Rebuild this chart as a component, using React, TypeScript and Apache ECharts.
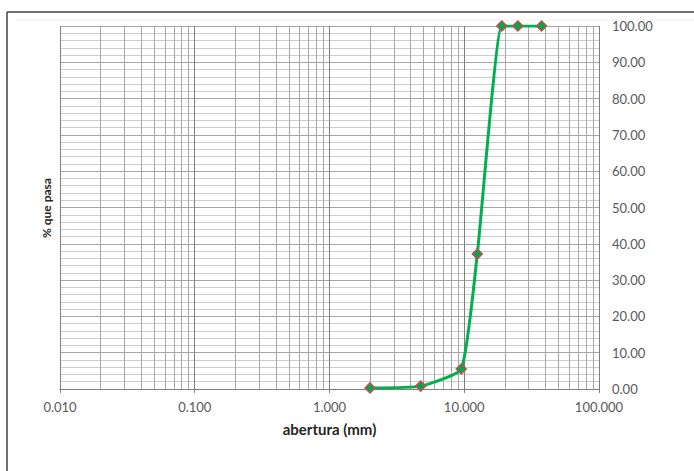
import React, { useEffect, useRef } from "react";
import * as echarts from "echarts";

// sieve openings (mm) and % passing
const aperturas = [2.0, 4.75, 9.5, 12.5, 19.0, 25.0, 37.5];
const pasa = [0.3, 0.8, 5.5, 37.2, 100, 100, 100];

// log grid minor lines (2..9 of each decade) and decade lines
const decades = [0.01, 0.1, 1, 10, 100];
const minorMultipliers = [2, 3, 4, 5, 6, 7, 8, 9];

const yTitle = "% que pasa";
const xTitle = "abertura (mm)";

export default function App() {
  const ref = useRef<HTMLDivElement>(null);
  useEffect(() => {
    if (!ref.current) return;
    const chart = echarts.init(ref.current, null, { renderer: "svg" });
    const minorVals: number[] = [];
    decades.slice(0, -1).forEach((d) =>
      minorMultipliers.forEach((m) => minorVals.push(d * m))
    );
    const font = "Lato, 'Open Sans', sans-serif";
    chart.setOption({
      animation: false,
      backgroundColor: "#ffffff",
      grid: { left: 60, right: 95, top: 26, bottom: 82, containLabel: false },
      xAxis: {
        type: "log",
        logBase: 10,
        min: 0.01,
        max: 100,
        name: xTitle,
        nameLocation: "middle",
        nameGap: 32,
        nameTextStyle: { fontFamily: font, fontWeight: "bold", fontSize: 15, color: "#262626" },
        axisLine: { show: true, lineStyle: { color: "#7f7f7f", width: 1 } },
        axisTick: { show: true, length: 4, lineStyle: { color: "#7f7f7f" } },
        axisLabel: {
          margin: 11,
          fontFamily: font,
          fontSize: 13,
          color: "#595959",
          formatter: (v: number) => v.toFixed(3),
        },
        splitLine: { show: true, lineStyle: { color: "#7f7f7f", width: 1 } },
        minorTick: { show: false },
        minorSplitLine: { show: false },
      },
      yAxis: {
        type: "value",
        position: "right",
        min: 0,
        max: 100,
        interval: 10,
        axisLine: { show: false },
        axisTick: { show: false },
        axisLabel: {
          margin: 13,
          fontFamily: font,
          fontSize: 13,
          color: "#595959",
          formatter: (v: number) => v.toFixed(2),
        },
        splitLine: { show: true, lineStyle: { color: "#a6a6a6", width: 1 } },
        minorTick: { show: false, splitNumber: 5 },
        minorSplitLine: { show: true, lineStyle: { color: "#cccccc", width: 1 } },
      },
      graphic: [
        {
          type: "text",
          x: 46,
          y: 208,
          rotation: Math.PI / 2,
          style: {
            text: yTitle,
            fontFamily: font,
            fontWeight: "bold",
            fontSize: 12,
            fill: "#262626",
            align: "center",
            verticalAlign: "middle",
          },
        },
        {
          type: "line",
          shape: { x1: 7, y1: 12, x2: 694, y2: 12 },
          style: { stroke: "#404040", lineWidth: 1.5 },
        },
        {
          type: "line",
          shape: { x1: 7, y1: 12, x2: 7, y2: 471 },
          style: { stroke: "#404040", lineWidth: 1.5 },
        },
        {
          type: "line",
          shape: { x1: 16, y1: 20, x2: 694, y2: 20 },
          style: { stroke: "#ececec", lineWidth: 1 },
        },
      ],
      series: [
        {
          type: "line",
          data: [],
          silent: true,
          markLine: {
            silent: true,
            symbol: "none",
            label: { show: false },
            lineStyle: { color: "#a6a6a6", width: 1, type: "solid" },
            data: minorVals.map((v) => ({ xAxis: v })),
          },
        },
        {
          type: "line",
          data: aperturas.map((a, i) => [a, pasa[i]]),
          smooth: 0.15,
          symbol: "diamond",
          symbolSize: 10,
          lineStyle: { color: "#00b050", width: 3 },
          itemStyle: { color: "#00a650", borderColor: "#c0504d", borderWidth: 1.5 },
          z: 5,
        },
      ],
    });
    return () => chart.dispose();
  }, []);
  return (
    <div
      ref={ref}
      style={{ position: "fixed", left: 0, top: 0, width: 694, height: 471 }}
    />
  );
}
